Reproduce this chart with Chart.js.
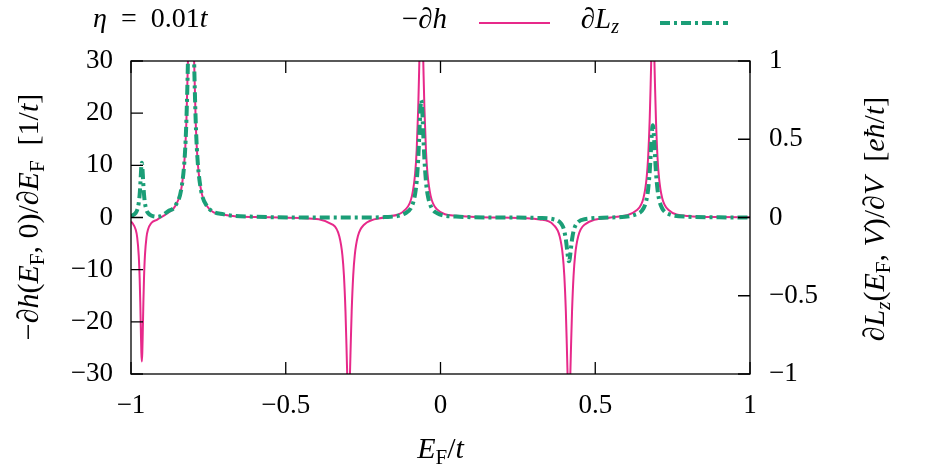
<!DOCTYPE html>
<html>
<head>
<meta charset="utf-8">
<script src="https://cdn.jsdelivr.net/npm/chart.js@4.4.1/dist/chart.umd.min.js"></script>
<style>
  body { margin: 0; background: #fff; }
</style>
</head>
<body>
<canvas id="chart" width="947" height="473"></canvas>
<script>
// Fermi energy grid (units of t)
const energy = [
  -1, -0.995, -0.985, -0.98, -0.975, -0.972, -0.97, -0.968, -0.9665, -0.965, -0.9635, -0.962, -0.96, -0.958, -0.955, -0.95, -0.945, -0.935, -0.915, -0.88,
  -0.856, -0.836, -0.826, -0.821, -0.816, -0.813, -0.811, -0.809, -0.8075, -0.806, -0.8045, -0.803, -0.801, -0.799, -0.796, -0.791, -0.786, -0.776, -0.756, -0.7, -0.6, -0.45,
  -0.347, -0.327, -0.317, -0.312, -0.307, -0.304, -0.302, -0.3, -0.2985, -0.297, -0.2955, -0.294, -0.292, -0.29, -0.287, -0.282, -0.277, -0.267, -0.247, -0.18,
  -0.112, -0.092, -0.082, -0.077, -0.072, -0.069, -0.067, -0.065, -0.0635, -0.062, -0.0605, -0.059, -0.057, -0.055, -0.052, -0.047, -0.042, -0.032, -0.012, 0.05, 0.2, 0.32,
  0.365, 0.385, 0.395, 0.4, 0.405, 0.408, 0.41, 0.412, 0.4135, 0.415, 0.4165, 0.418, 0.42, 0.422, 0.425, 0.43, 0.435, 0.445, 0.465, 0.55,
  0.636, 0.656, 0.666, 0.671, 0.676, 0.679, 0.681, 0.683, 0.6845, 0.686, 0.6875, 0.689, 0.691, 0.693, 0.696, 0.701, 0.706, 0.716, 0.736, 0.8, 0.9, 1
];

// -dh/dE_F (left axis, 1/t)
const dhValues = [
  -0.8, -1.1, -2.3, -3.8, -7.3, -11.7, -16.3, -22.1, -25.9, -27.6, -25.9, -22.1, -16.3, -11.7, -7.3, -3.8, -2.3, -1.1, -0.4, 0.9,
  2.3, 6, 12, 18.5, 30, 40, 48, 55, 58.7, 60, 58.7, 55, 48, 40, 30, 18.5, 12, 6, 2.3, 0.53, 0.1, -0.1,
  -1.4, -3.6, -7.2, -11.1, -18, -24.2, -28.8, -33, -35.2, -36, -35.2, -33, -28.8, -24.2, -18, -11.1, -7.2, -3.6, -1.4, 0.04,
  1.6, 4.2, 8.4, 12.9, 21, 28.2, 33.6, 38.5, 41.1, 42, 41.1, 38.5, 33.6, 28.2, 21, 12.9, 8.4, 4.2, 1.6, 0.33, -0.02, -0.39,
  -1.4, -3.6, -7.2, -11.1, -18, -24.2, -28.8, -33, -35.2, -36, -35.2, -33, -28.8, -24.2, -18, -11.1, -7.2, -3.6, -1.4, 0,
  1.5, 3.8, 7.6, 11.7, 19, 25.5, 30.4, 34.8, 37.2, 38, 37.2, 34.8, 30.4, 25.5, 19, 11.7, 7.6, 3.8, 1.5, 0.29, 0.08, 0.04
];

// dLz/dV (right axis, e hbar / t)
const dLzValues = [
  0.01, 0.013, 0.029, 0.048, 0.093, 0.148, 0.207, 0.28, 0.33, 0.35, 0.33, 0.28, 0.207, 0.148, 0.093, 0.048, 0.029, 0.013, 0.005, 0.04,
  0.077, 0.2, 0.4, 0.62, 1.0, 1.34, 1.6, 1.83, 1.96, 2.0, 1.96, 1.83, 1.6, 1.34, 1.0, 0.62, 0.4, 0.2, 0.077, 0.02, 0.005, 0,
  0, 0, 0, 0, 0, 0, 0, 0, 0, 0, 0, 0, 0, 0, 0, 0, 0, 0, 0, 0.003,
  0.029, 0.075, 0.15, 0.23, 0.375, 0.5, 0.6, 0.69, 0.73, 0.75, 0.73, 0.69, 0.6, 0.5, 0.375, 0.23, 0.15, 0.075, 0.029, 0.006, 0, -0.003,
  -0.011, -0.028, -0.056, -0.086, -0.14, -0.188, -0.224, -0.257, -0.274, -0.28, -0.274, -0.257, -0.224, -0.188, -0.14, -0.086, -0.056, -0.028, -0.011, 0,
  0.023, 0.059, 0.118, 0.182, 0.295, 0.396, 0.472, 0.541, 0.577, 0.59, 0.577, 0.541, 0.472, 0.396, 0.295, 0.182, 0.118, 0.059, 0.023, 0.005, 0.001, 0
];

const xTicks = [-1, -0.5, 0, 0.5, 1];
const yTicks = [-30, -20, -10, 0, 10, 20, 30];
const y2Ticks = [-1, -0.5, 0, 0.5, 1];

const PINK = '#e7298a';
const GREEN = '#1b9e77';
const FONT = '"Liberation Serif", "DejaVu Serif", serif';
const FS = 27;
const TS = 30;

const fmt = v => (v < 0 ? '\u2212' + Math.abs(v) : String(v));

// math-ish text runs: r = roman, i = italic, sr/si = subscript
function setFont(ctx, s, size) {
  const sub = s[0] === 's';
  ctx.font = (s.endsWith('i') ? 'italic ' : '') + (sub ? Math.round(size * 0.7) : size) + 'px ' + FONT;
  return sub;
}
function drawRuns(ctx, runs, x, y, size, align) {
  let w = 0;
  runs.forEach(([t, s]) => { setFont(ctx, s, size); w += ctx.measureText(t).width; });
  let cx = align === 'center' ? x - w / 2 : align === 'right' ? x - w : x;
  ctx.textBaseline = 'middle';
  ctx.textAlign = 'left';
  ctx.fillStyle = '#000';
  runs.forEach(([t, s]) => {
    const sub = setFont(ctx, s, size);
    ctx.fillText(t, cx, sub ? y + size * 0.28 : y);
    cx += ctx.measureText(t).width;
  });
}

const leftTitle = [['\u2212\u2202', 'r'], ['h', 'i'], ['(', 'r'], ['E', 'i'], ['F', 'sr'], [', 0)/\u2202', 'r'], ['E', 'i'], ['F', 'sr'], ['\u2002[1/', 'r'], ['t', 'i'], [']', 'r']];
const rightTitle = [['\u2202', 'r'], ['L', 'i'], ['z', 'si'], ['(', 'r'], ['E', 'i'], ['F', 'sr'], [', ', 'r'], ['V', 'i'], [')/\u2202', 'r'], ['V', 'i'], ['\u2002[', 'r'], ['e\u0127', 'i'], ['/', 'r'], ['t', 'i'], [']', 'r']];
const xTitle = [['E', 'i'], ['F', 'sr'], ['/', 'r'], ['t', 'i']];

const decorations = {
  id: 'decorations',
  afterDraw(chart) {
    const ctx = chart.ctx;
    const a = chart.chartArea;
    const sx = chart.scales.x, sy = chart.scales.y, sy2 = chart.scales.y2;
    ctx.save();
    ctx.strokeStyle = '#000';
    ctx.lineWidth = 1.3;
    ctx.strokeRect(a.left, a.top, a.right - a.left, a.bottom - a.top);
    const tl = 12;
    ctx.beginPath();
    xTicks.forEach(v => {
      const px = sx.getPixelForValue(v);
      ctx.moveTo(px, a.bottom); ctx.lineTo(px, a.bottom - tl);
      ctx.moveTo(px, a.top); ctx.lineTo(px, a.top + tl);
    });
    yTicks.forEach(v => {
      const py = sy.getPixelForValue(v);
      ctx.moveTo(a.left, py); ctx.lineTo(a.left + tl, py);
    });
    y2Ticks.forEach(v => {
      const py = sy2.getPixelForValue(v);
      ctx.moveTo(a.right, py); ctx.lineTo(a.right - tl, py);
    });
    ctx.stroke();

    // axis titles
    drawRuns(ctx, xTitle, (a.left + a.right) / 2, 450, TS, 'center');
    ctx.save();
    ctx.translate(30, 217);
    ctx.rotate(-Math.PI / 2);
    drawRuns(ctx, leftTitle, 0, 0, TS, 'center');
    ctx.restore();
    ctx.save();
    ctx.translate(876, 219);
    ctx.rotate(-Math.PI / 2);
    drawRuns(ctx, rightTitle, 0, 0, TS, 'center');
    ctx.restore();

    // key in gnuplot style: label then sample
    drawRuns(ctx, [['\u03b7', 'i'], ['\u2002=\u20020.01', 'r'], ['t', 'i']], 93, 20, 28, 'left');
    drawRuns(ctx, [['\u2212\u2202', 'r'], ['h', 'i']], 447, 20, 29, 'right');
    ctx.strokeStyle = PINK;
    ctx.lineWidth = 2;
    ctx.beginPath(); ctx.moveTo(479, 23); ctx.lineTo(550, 23); ctx.stroke();
    drawRuns(ctx, [['\u2202', 'r'], ['L', 'i'], ['z', 'si']], 619, 20, 29, 'right');
    ctx.strokeStyle = GREEN;
    ctx.lineWidth = 4;
    ctx.setLineDash([10, 4, 3, 4]);
    ctx.beginPath(); ctx.moveTo(660, 23); ctx.lineTo(728, 23); ctx.stroke();
    ctx.restore();
  }
};

new Chart(document.getElementById('chart'), {
  type: 'line',
  data: {
    datasets: [
      {
        label: '\u2212\u2202h',
        data: energy.map((e, i) => ({ x: e, y: dhValues[i] })),
        yAxisID: 'y',
        borderColor: PINK,
        borderWidth: 2,
        pointRadius: 0,
        cubicInterpolationMode: 'monotone',
        order: 1
      },
      {
        label: '\u2202Lz',
        data: energy.map((e, i) => ({ x: e, y: dLzValues[i] })),
        yAxisID: 'y2',
        borderColor: GREEN,
        borderWidth: 4,
        borderDash: [10, 4, 3, 4],
        pointRadius: 0,
        cubicInterpolationMode: 'monotone',
        order: 0
      }
    ]
  },
  options: {
    responsive: false,
    animation: false,
    layout: { padding: { top: 61, left: 0, right: 0, bottom: 0 } },
    plugins: { legend: { display: false }, tooltip: { enabled: false } },
    scales: {
      x: {
        type: 'linear', min: -1, max: 1,
        afterFit: s => { s.height = 99; },
        afterBuildTicks: s => { s.ticks = xTicks.map(v => ({ value: v })); },
        grid: { display: false }, border: { display: false },
        ticks: { callback: fmt, padding: 8, maxRotation: 0, color: '#000', font: { family: FONT, size: FS } }
      },
      y: {
        type: 'linear', position: 'left', min: -30, max: 30,
        afterFit: s => { s.width = 131; },
        afterBuildTicks: s => { s.ticks = yTicks.map(v => ({ value: v })); },
        grid: { display: false }, border: { display: false },
        ticks: { callback: fmt, padding: 10, color: '#000', font: { family: FONT, size: FS } }
      },
      y2: {
        type: 'linear', position: 'right', min: -1, max: 1,
        afterFit: s => { s.width = 197; },
        afterBuildTicks: s => { s.ticks = y2Ticks.map(v => ({ value: v })); },
        grid: { display: false }, border: { display: false },
        ticks: { callback: fmt, padding: 11, color: '#000', font: { family: FONT, size: FS } }
      }
    }
  },
  plugins: [decorations]
});
</script>
</body>
</html>
